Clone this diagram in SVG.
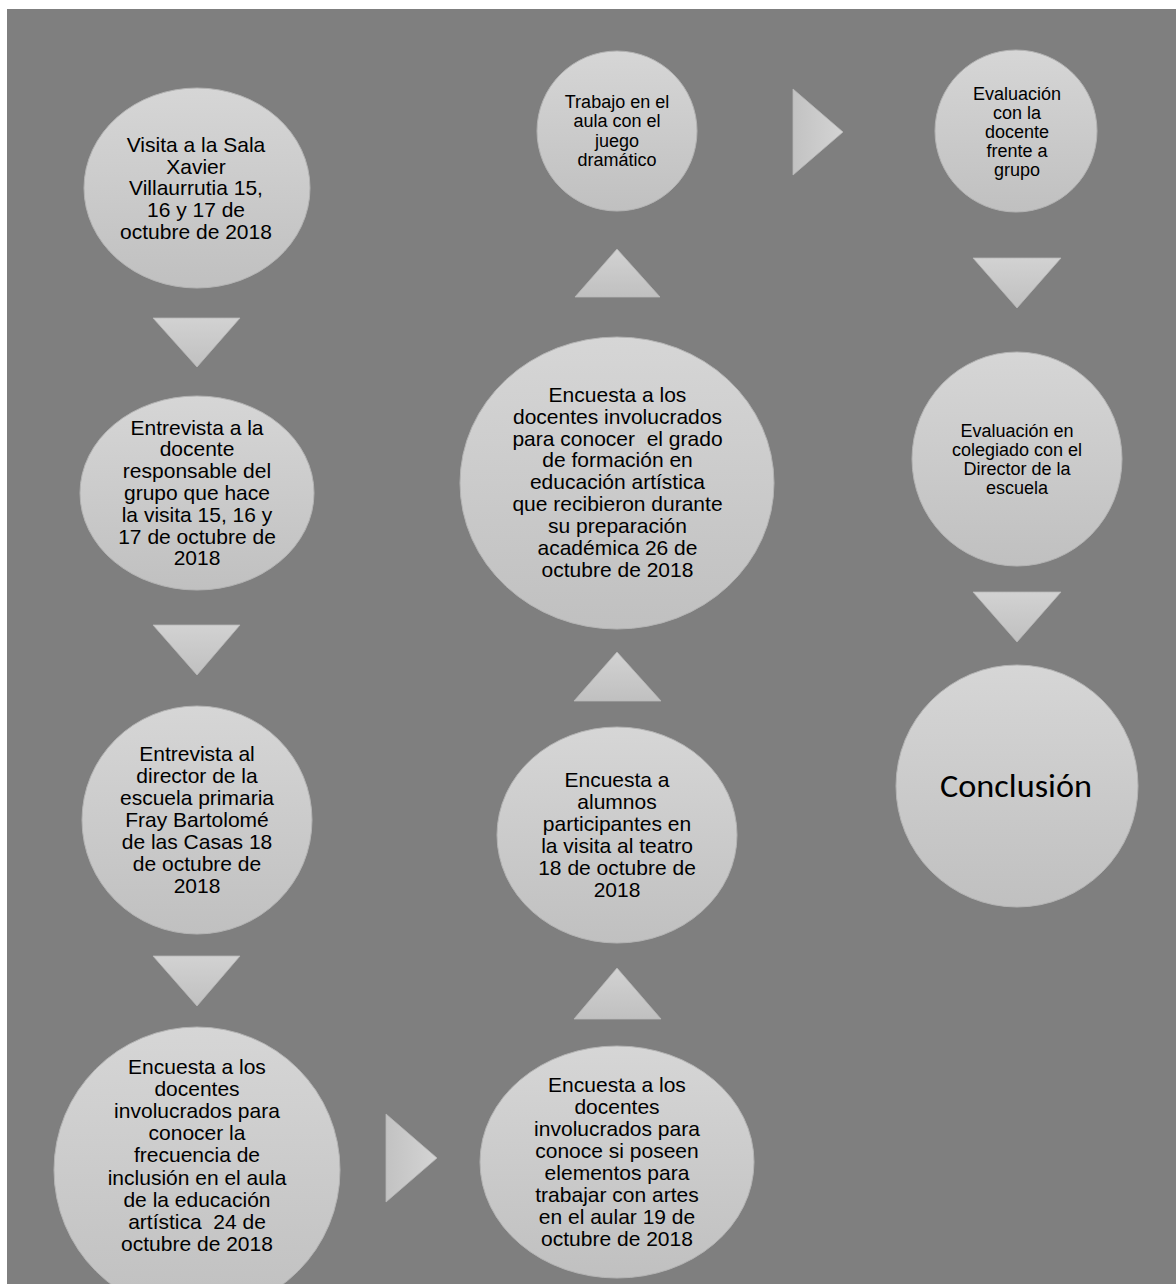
<svg xmlns="http://www.w3.org/2000/svg" width="1176" height="1284" viewBox="0 0 1176 1284">
<defs>
<linearGradient id="gNode" x1="0" y1="0" x2="0" y2="1">
<stop offset="0" stop-color="#d6d6d6"/>
<stop offset="1" stop-color="#c0c0c0"/>
</linearGradient>
<linearGradient id="gArrV" x1="0" y1="0" x2="0" y2="1">
<stop offset="0" stop-color="#d2d2d2"/>
<stop offset="1" stop-color="#c0c0c0"/>
</linearGradient>
<linearGradient id="gArrH" x1="0" y1="0" x2="1" y2="0">
<stop offset="0" stop-color="#c2c2c2"/>
<stop offset="1" stop-color="#d4d4d4"/>
</linearGradient>
</defs>
<style>
.node{fill:url(#gNode);stroke:#b4b4b4;stroke-width:1}
.arr{fill:url(#gArrV);stroke:#b8b8b8;stroke-width:0.8}
.arrh{fill:url(#gArrH);stroke:#b8b8b8;stroke-width:0.8}
.t{font-family:Arial,"Liberation Sans",sans-serif;font-size:21px;fill:#000;text-anchor:middle}
.ts{font-family:Arial,"Liberation Sans",sans-serif;font-size:18px;fill:#000;text-anchor:middle}
.tc{font-family:Carlito,Calibri,Lato,"Open Sans",sans-serif;font-size:32px;fill:#000;text-anchor:middle}
</style>
<rect x="7" y="9" width="1169" height="1275" fill="#7f7f7f"/>
<g id="connectors">
<polygon class="arr" points="153,318 240,318 197,367"/>
<polygon class="arr" points="153,625 240,625 197,675"/>
<polygon class="arr" points="153,956 240,956 197,1006"/>
<polygon class="arrh" points="386,1114 437,1158 386,1202"/>
<polygon class="arr" points="617,968 661,1019 574,1019"/>
<polygon class="arr" points="617,652 661,701 574,701"/>
<polygon class="arr" points="617,249 660,297 575,297"/>
<polygon class="arrh" points="793,89 843,132 793,175"/>
<polygon class="arr" points="973,258 1061,258 1017,308"/>
<polygon class="arr" points="973,592 1061,592 1017,642"/>
</g>
<g id="n1">
<ellipse class="node" cx="197" cy="188" rx="113" ry="100"/>
<text class="t" x="196" y="152">Visita a la Sala</text>
<text class="t" x="196" y="173.7">Xavier</text>
<text class="t" x="196" y="195.4">Villaurrutia 15,</text>
<text class="t" x="196" y="217.1">16 y 17 de</text>
<text class="t" x="196" y="238.8">octubre de 2018</text>
</g>
<g id="n2">
<ellipse class="node" cx="197" cy="493" rx="117" ry="97"/>
<text class="t" x="197" y="434.5">Entrevista a la</text>
<text class="t" x="197" y="456.3">docente</text>
<text class="t" x="197" y="478.1">responsable del</text>
<text class="t" x="197" y="499.9">grupo que hace</text>
<text class="t" x="197" y="521.7">la visita 15, 16 y</text>
<text class="t" x="197" y="543.5">17 de octubre de</text>
<text class="t" x="197" y="565.3">2018</text>
</g>
<g id="n3">
<ellipse class="node" cx="197" cy="820" rx="115" ry="114"/>
<text class="t" x="197" y="761">Entrevista al</text>
<text class="t" x="197" y="783">director de la</text>
<text class="t" x="197" y="805">escuela primaria</text>
<text class="t" x="197" y="827">Fray Bartolomé</text>
<text class="t" x="197" y="849">de las Casas 18</text>
<text class="t" x="197" y="871">de octubre de</text>
<text class="t" x="197" y="893">2018</text>
</g>
<g id="n4">
<ellipse class="node" cx="197" cy="1170" rx="143" ry="143"/>
<text class="t" x="197" y="1074">Encuesta a los</text>
<text class="t" x="197" y="1096.1">docentes</text>
<text class="t" x="197" y="1118.2">involucrados para</text>
<text class="t" x="197" y="1140.3">conocer la</text>
<text class="t" x="197" y="1162.4">frecuencia de</text>
<text class="t" x="197" y="1184.5">inclusión en el aula</text>
<text class="t" x="197" y="1206.6">de la educación</text>
<text class="t" x="197" y="1228.7" xml:space="preserve">artística  24 de</text>
<text class="t" x="197" y="1250.8">octubre de 2018</text>
</g>
<g id="n5">
<ellipse class="node" cx="617" cy="1162" rx="137" ry="116"/>
<text class="t" x="617" y="1091.7">Encuesta a los</text>
<text class="t" x="617" y="1113.8">docentes</text>
<text class="t" x="617" y="1135.9">involucrados para</text>
<text class="t" x="617" y="1158">conoce si poseen</text>
<text class="t" x="617" y="1180.1">elementos para</text>
<text class="t" x="617" y="1202.2">trabajar con artes</text>
<text class="t" x="617" y="1224.3">en el aular 19 de</text>
<text class="t" x="617" y="1246.4">octubre de 2018</text>
</g>
<g id="n6">
<ellipse class="node" cx="617" cy="835" rx="120" ry="108"/>
<text class="t" x="617" y="786.7">Encuesta a</text>
<text class="t" x="617" y="808.7">alumnos</text>
<text class="t" x="617" y="830.7">participantes en</text>
<text class="t" x="617" y="852.7">la visita al teatro</text>
<text class="t" x="617" y="874.7">18 de octubre de</text>
<text class="t" x="617" y="896.7">2018</text>
</g>
<g id="n7">
<ellipse class="node" cx="617" cy="483" rx="157" ry="146"/>
<text class="t" x="617.5" y="401.7">Encuesta a los</text>
<text class="t" x="617.5" y="423.6">docentes involucrados</text>
<text class="t" x="617.5" y="445.5" xml:space="preserve">para conocer  el grado</text>
<text class="t" x="617.5" y="467.4">de formación en</text>
<text class="t" x="617.5" y="489.3">educación artística</text>
<text class="t" x="617.5" y="511.2">que recibieron durante</text>
<text class="t" x="617.5" y="533.1">su preparación</text>
<text class="t" x="617.5" y="555">académica 26 de</text>
<text class="t" x="617.5" y="576.9">octubre de 2018</text>
</g>
<g id="n8">
<ellipse class="node" cx="617" cy="131" rx="80" ry="80"/>
<text class="ts" x="617" y="108.3">Trabajo en el</text>
<text class="ts" x="617" y="127.4">aula con el</text>
<text class="ts" x="617" y="146.5">juego</text>
<text class="ts" x="617" y="165.6">dramático</text>
</g>
<g id="n9">
<ellipse class="node" cx="1016" cy="131" rx="81" ry="81"/>
<text class="ts" x="1017" y="100">Evaluación</text>
<text class="ts" x="1017" y="119">con la</text>
<text class="ts" x="1017" y="138">docente</text>
<text class="ts" x="1017" y="157">frente a</text>
<text class="ts" x="1017" y="176">grupo</text>
</g>
<g id="n10">
<ellipse class="node" cx="1017" cy="459" rx="105" ry="107"/>
<text class="ts" x="1017" y="436.7">Evaluación en</text>
<text class="ts" x="1017" y="455.8">colegiado con el</text>
<text class="ts" x="1017" y="474.9">Director de la</text>
<text class="ts" x="1017" y="494">escuela</text>
</g>
<g id="n11">
<ellipse class="node" cx="1017" cy="786" rx="121" ry="121"/>
<text class="tc" x="1016" y="796.7" textLength="152" lengthAdjust="spacingAndGlyphs">Conclusión</text>
</g>
</svg>
